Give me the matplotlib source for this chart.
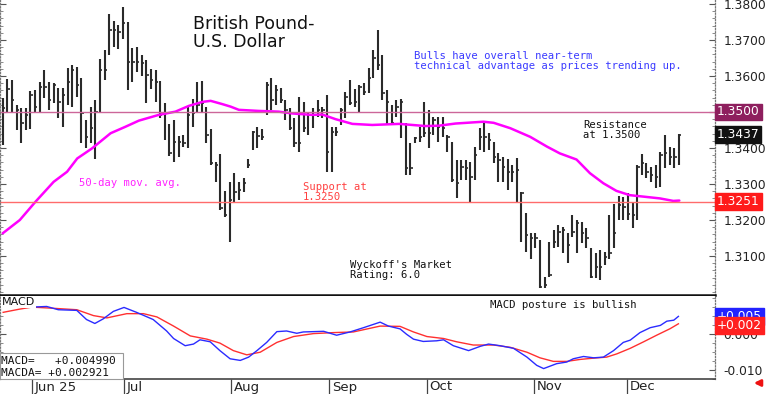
import matplotlib
matplotlib.use("Agg")
import matplotlib.pyplot as plt
import matplotlib.transforms as mtrans
from matplotlib.patches import FancyArrowPatch, Rectangle
import numpy as np

# ---------------- data ----------------
highs = [1.3538, 1.3591, 1.3589, 1.3519, 1.3510, 1.3510, 1.3559, 1.3561, 1.3584, 1.3617,
         1.3584, 1.3581, 1.3568, 1.3566, 1.3621, 1.3631, 1.3624, 1.3594, 1.3478, 1.3513,
         1.3533, 1.3646, 1.3672, 1.3772, 1.3754, 1.3742, 1.3791, 1.3751, 1.3677, 1.3681,
         1.3658, 1.3644, 1.3619, 1.3617, 1.3587, 1.3524, 1.3467, 1.3478, 1.3433, 1.3436,
         1.3513, 1.3535, 1.3584, 1.3587, 1.3515, 1.3452, 1.3362, 1.3383, 1.3281, 1.3306,
         1.3331, 1.3306, 1.3316, 1.3369, 1.3448, 1.3457, 1.3452, 1.3584, 1.3594, 1.3575,
         1.3566, 1.3533, 1.3510, 1.3482, 1.3543, 1.3529, 1.3496, 1.3510, 1.3533, 1.3515,
         1.3547, 1.3459, 1.3459, 1.3510, 1.3556, 1.3589, 1.3563, 1.3575, 1.3580, 1.3621,
         1.3672, 1.3728, 1.3658, 1.3561, 1.3519, 1.3533, 1.3535, 1.3469, 1.3413, 1.3431,
         1.3459, 1.3529, 1.3506, 1.3487, 1.3487, 1.3487, 1.3436, 1.3418, 1.3367, 1.3367,
         1.3367, 1.3362, 1.3404, 1.3455, 1.3473, 1.3441, 1.3418, 1.3385, 1.3376, 1.3369,
         1.3353, 1.3371, 1.3279, 1.3219, 1.3163, 1.3163, 1.3144, 1.3043, 1.3140, 1.3172,
         1.3186, 1.3181, 1.3163, 1.3214, 1.3200, 1.3195, 1.3177, 1.3121, 1.3107, 1.3117,
         1.3112, 1.3214, 1.3244, 1.3267, 1.3265, 1.3276, 1.3251, 1.3353, 1.3383, 1.3357,
         1.3348, 1.3353, 1.3390, 1.3436, 1.3404, 1.3399, 1.3439]

lows = [1.3408, 1.3498, 1.3501, 1.3450, 1.3415, 1.3450, 1.3452, 1.3496, 1.3501, 1.3538,
        1.3506, 1.3524, 1.3482, 1.3457, 1.3519, 1.3515, 1.3543, 1.3413, 1.3399, 1.3413,
        1.3369, 1.3501, 1.3589, 1.3658, 1.3681, 1.3674, 1.3702, 1.3561, 1.3584, 1.3612,
        1.3600, 1.3524, 1.3563, 1.3529, 1.3482, 1.3422, 1.3378, 1.3362, 1.3374, 1.3404,
        1.3399, 1.3459, 1.3501, 1.3501, 1.3415, 1.3353, 1.3306, 1.3228, 1.3209, 1.3140,
        1.3248, 1.3256, 1.3279, 1.3344, 1.3394, 1.3399, 1.3422, 1.3492, 1.3506, 1.3519,
        1.3524, 1.3478, 1.3450, 1.3404, 1.3390, 1.3445, 1.3436, 1.3455, 1.3487, 1.3482,
        1.3334, 1.3334, 1.3433, 1.3464, 1.3482, 1.3519, 1.3515, 1.3496, 1.3547, 1.3552,
        1.3594, 1.3617, 1.3533, 1.3464, 1.3464, 1.3487, 1.3427, 1.3325, 1.3325, 1.3413,
        1.3418, 1.3431, 1.3399, 1.3436, 1.3418, 1.3431, 1.3390, 1.3306, 1.3260, 1.3311,
        1.3311, 1.3246, 1.3311, 1.3394, 1.3390, 1.3394, 1.3357, 1.3306, 1.3306, 1.3283,
        1.3306, 1.3246, 1.3140, 1.3112, 1.3093, 1.3121, 1.3010, 1.3010, 1.3043, 1.3121,
        1.3126, 1.3107, 1.3080, 1.3154, 1.3107, 1.3135, 1.3121, 1.3038, 1.3038, 1.3033,
        1.3075, 1.3093, 1.3121, 1.3200, 1.3200, 1.3200, 1.3177, 1.3200, 1.3325, 1.3316,
        1.3306, 1.3288, 1.3293, 1.3344, 1.3353, 1.3344, 1.3353]

closes = [1.3510, 1.3563, 1.3533, 1.3506, 1.3470, 1.3492, 1.3547, 1.3515, 1.3570, 1.3570,
          1.3533, 1.3575, 1.3529, 1.3547, 1.3584, 1.3617, 1.3575, 1.3496, 1.3431, 1.3455,
          1.3501, 1.3617, 1.3617, 1.3728, 1.3728, 1.3723, 1.3746, 1.3640, 1.3640, 1.3640,
          1.3635, 1.3603, 1.3589, 1.3584, 1.3492, 1.3496, 1.3385, 1.3418, 1.3418, 1.3413,
          1.3492, 1.3496, 1.3519, 1.3524, 1.3436, 1.3357, 1.3353, 1.3232, 1.3214, 1.3256,
          1.3279, 1.3283, 1.3302, 1.3353, 1.3445, 1.3433, 1.3431, 1.3575, 1.3533, 1.3561,
          1.3533, 1.3506, 1.3455, 1.3413, 1.3413, 1.3455, 1.3492, 1.3492, 1.3506, 1.3506,
          1.3390, 1.3445, 1.3445, 1.3506, 1.3543, 1.3524, 1.3529, 1.3570, 1.3556, 1.3594,
          1.3649, 1.3631, 1.3552, 1.3529, 1.3469, 1.3515, 1.3529, 1.3344, 1.3344, 1.3427,
          1.3431, 1.3441, 1.3441, 1.3478, 1.3459, 1.3455, 1.3431, 1.3311, 1.3302, 1.3348,
          1.3344, 1.3320, 1.3381, 1.3431, 1.3431, 1.3422, 1.3376, 1.3367, 1.3348, 1.3334,
          1.3334, 1.3339, 1.3274, 1.3158, 1.3149, 1.3149, 1.3015, 1.3019, 1.3047, 1.3140,
          1.3168, 1.3172, 1.3130, 1.3168, 1.3191, 1.3163, 1.3149, 1.3043, 1.3070, 1.3070,
          1.3098, 1.3107, 1.3163, 1.3242, 1.3237, 1.3218, 1.3214, 1.3348, 1.3357, 1.3334,
          1.3325, 1.3320, 1.3381, 1.3385, 1.3376, 1.3376, 1.3437]

# 50-day moving average, read at bar positions
ma_x = [1, 4.7, 8.1, 12.0, 14.9, 17.1, 20.3, 24.3, 27.5, 30.4, 34.7, 38.3, 41.2, 44.1, 45.9,
        48.4, 50.2, 52.0, 56.3, 60.6, 63.5, 67.8, 70.0, 72.9, 76.5, 80.8, 86.6, 92.3, 95.2,
        98.8, 104.8, 107.0, 110.6, 114.9, 118.5, 121.3, 124.9, 127.8, 130.7, 133.5, 136.4,
        139.3, 142.9, 145.8, 147.1]
ma_y = [1.3163, 1.3200, 1.3251, 1.3306, 1.3334, 1.3371, 1.3399, 1.3441, 1.3459, 1.3476,
        1.3492, 1.3501, 1.3517, 1.3528, 1.3531, 1.3522, 1.3515, 1.3506, 1.3503, 1.3501,
        1.3496, 1.3492, 1.3493, 1.3480, 1.3467, 1.3464, 1.3467, 1.3461, 1.3462, 1.3468,
        1.3473, 1.3470, 1.3455, 1.3431, 1.3404, 1.3385, 1.3368, 1.3330, 1.3302, 1.3281,
        1.3269, 1.3265, 1.3260, 1.3253, 1.3254]

# MACD line (blue) and its average (red)
macd_x = [7.3, 10.5, 13.0, 17.0, 19.1, 20.9, 22.7, 24.9, 27.2, 29.9, 33.5, 36.4, 37.9, 40.4,
          42.2, 43.6, 45.8, 47.9, 50.1, 52.3, 54.1, 55.9, 58.0, 60.2, 62.3, 64.5, 65.9, 70.3,
          73.1, 76.0, 78.9, 82.5, 84.3, 86.8, 88.2, 89.7, 91.8, 94.7, 96.2, 98.3, 101.6, 104.1,
          105.9, 108.4, 111.3, 114.2, 116.3, 117.8, 120.6, 122.8, 124.2, 126.4, 128.6, 130.7,
          132.9, 135.0, 136.5, 138.6, 140.8, 143.0, 144.4, 145.9, 146.9]
macd_y = [0.00758, 0.00776, 0.00685, 0.00667, 0.00411, 0.00301, 0.00429, 0.00639, 0.00749,
          0.00612, 0.00411, 0.00091, -0.00119, -0.00320, -0.00274, -0.00155, -0.00210,
          -0.00457, -0.00685, -0.00731, -0.00639, -0.00457, -0.00228, 0.00073, 0.00091,
          0.00027, 0.00064, 0.00082, -0.00027, 0.00064, 0.00183, 0.00338, 0.00228, 0.00150,
          0.00000, -0.00137, -0.00201, -0.00183, -0.00155, -0.00320, -0.00457, -0.00338,
          -0.00274, -0.00320, -0.00393, -0.00639, -0.00868, -0.00959, -0.00822, -0.00776,
          -0.00685, -0.00621, -0.00658, -0.00639, -0.00457, -0.00228, -0.00164, 0.00046,
          0.00183, 0.00247, 0.00365, 0.00393, 0.00499]
sig_x = [1.1, 4.7, 7.3, 11.2, 17.0, 20.6, 23.5, 27.8, 31.4, 34.3, 37.9, 41.5, 45.1, 47.9,
         50.8, 53.7, 56.6, 60.2, 63.8, 68.1, 72.4, 76.7, 82.5, 86.8, 89.7, 92.6, 96.2, 99.0,
         102.6, 107.0, 110.6, 114.2, 117.0, 119.9, 122.8, 125.7, 128.6, 131.4, 133.6, 136.5,
         139.4, 142.2, 145.1, 146.9]
sig_y = [0.00612, 0.00703, 0.00758, 0.00731, 0.00685, 0.00521, 0.00457, 0.00575, 0.00575,
         0.00484, 0.00228, -0.00046, -0.00137, -0.00247, -0.00457, -0.00575, -0.00502,
         -0.00228, -0.00064, 0.00018, 0.00046, 0.00064, 0.00228, 0.00220, 0.00064, -0.00064,
         -0.00119, -0.00210, -0.00301, -0.00301, -0.00365, -0.00502, -0.00658, -0.00758,
         -0.00758, -0.00703, -0.00667, -0.00639, -0.00548, -0.00393, -0.00210, -0.00027,
         0.00155, 0.00292]

month_pos = [7.3, 27.2, 50.3, 71.5, 92.6, 115.8, 135.9]
month_labels = ["Jun 25", "Jul", "Aug", "Sep", "Oct", "Nov", "Dec"]

price_ticks = [1.31, 1.32, 1.33, 1.34, 1.35, 1.36, 1.37, 1.38]
resistance = 1.3500
support = 1.3250
last_close = 1.3437
ma_last = 1.3251
macd_last = 0.004990
macda_last = 0.002921
macd_box_label = "+0.005"
macda_box_label = "+0.002"

# ---------------- figure ----------------
W, H = 768, 394
fig = plt.figure(figsize=(W / 100, H / 100), dpi=100)
fig.patch.set_facecolor("white")


def fx(px):
    return px / W


def fy(py):
    return 1 - py / H


right_px = 715
ax1 = fig.add_axes([0, fy(295), fx(right_px), (295) / H])
ax2 = fig.add_axes([0, fy(379), fx(right_px), (379 - 296) / H])

n = len(closes)
xs = np.arange(1, n + 1)
xlim = (0.42, 154.8)
LBL = 8.8

# price bars
ax1.vlines(xs, lows, highs, color="#2a2a2a", lw=1.5)
ax1.hlines(closes, xs, xs + 0.5, color="#2a2a2a", lw=1.2)
ax1.plot(ma_x, ma_y, color="#ff00ff", lw=1.8, solid_capstyle="round", solid_joinstyle="round")
ax1.axhline(resistance, color="#cc6699", lw=1.0)
ax1.axhline(support, color="#ff6b6b", lw=1.0)

ax1.set_xlim(*xlim)
ax1.set_ylim(1.38 - 291 / 3600, 1.38 + 4 / 3600)
ax1.set_xticks([])
ax1.yaxis.tick_right()
ax1.set_yticks(price_ticks)
# the 1.3500 label sits under the resistance box
ax1.set_yticklabels(["" if abs(t - resistance) < 1e-9 else f"{t:.4f}" for t in price_ticks])
ax1.set_yticks(np.arange(1.30, 1.381, 0.002), minor=True)
ax1.tick_params(axis="y", which="major", direction="in", length=4, width=0.8,
                colors="#555555", labelcolor="#222222", labelsize=LBL, pad=6,
                left=True)
ax1.tick_params(axis="y", which="minor", direction="in", length=2, width=0.6,
                colors="#777777", left=True)
for s in ["left", "right"]:
    ax1.spines[s].set_linestyle((0, (1, 1.5)))
    ax1.spines[s].set_color("#777777")
    ax1.spines[s].set_linewidth(0.9)
ax1.spines["top"].set_visible(False)
ax1.spines["bottom"].set_color("#111111")
ax1.spines["bottom"].set_linewidth(1.8)

# macd
ax2.plot(sig_x, sig_y, color="#ff3030", lw=1.0)
ax2.plot(macd_x, macd_y, color="#2b2bff", lw=1.0)
ax2.set_xlim(*xlim)
ax2.set_ylim((335 - 379) / 3650, (335 - 296) / 3650)
ax2.yaxis.tick_right()
ax2.set_yticks([-0.01, 0.0])
ax2.set_yticklabels(["-0.010", "0.000"])
ax2.set_yticks(np.arange(-0.0125, 0.0101, 0.0025), minor=True)
ax2.tick_params(axis="y", which="major", direction="in", length=4, width=0.8,
                colors="#555555", labelcolor="#222222", labelsize=LBL, pad=6, left=True)
ax2.tick_params(axis="y", which="minor", direction="in", length=2, width=0.6,
                colors="#777777", left=True)
ax2.set_xticks(month_pos)
ax2.set_xticklabels([])
ax2.tick_params(axis="x", which="major", direction="out", length=11, width=0.9,
                colors="#444444")
for s in ["left", "right"]:
    ax2.spines[s].set_linestyle((0, (1, 1.5)))
    ax2.spines[s].set_color("#777777")
    ax2.spines[s].set_linewidth(0.9)
ax2.spines["top"].set_visible(False)
ax2.spines["bottom"].set_color("#444444")
ax2.spines["bottom"].set_linewidth(1.2)

tr2 = mtrans.blended_transform_factory(ax2.transData, fig.transFigure)
for p, lab in zip(month_pos, month_labels):
    ax2.text(p + 0.6, fy(387), lab, transform=tr2, ha="left", va="center",
             fontsize=9.5, color="#222222", clip_on=False)


# value boxes on the right axis
def axis_box(ax, val, text, color):
    tr = mtrans.blended_transform_factory(fig.transFigure, ax.transData)
    ax.text(fx(717), val, text, transform=tr, ha="left", va="center", fontsize=LBL,
            color="white", zorder=10, clip_on=False,
            bbox=dict(boxstyle="square,pad=0.15", facecolor=color, edgecolor=color))


axis_box(ax1, resistance, f"{resistance:.4f}", "#8e1f5e")
axis_box(ax1, last_close, f"{last_close:.4f}", "#111111")
axis_box(ax1, ma_last, f"{ma_last:.4f}", "#ff1a1a")
axis_box(ax2, macd_last, macd_box_label, "#2222ff")
axis_box(ax2, macda_last - 0.0004, macda_box_label, "#ff2020")

# annotations
mono = "DejaVu Sans Mono"
fig.text(fx(193), fy(33), "British Pound-\nU.S. Dollar", fontsize=12.5, color="#111111",
         ha="left", va="center", linespacing=1.05)
fig.text(fx(414), fy(61), "Bulls have overall near-term\ntechnical advantage as prices trending up.",
         family=mono, fontsize=7.6, color="#3a3aff", ha="left", va="center", linespacing=1.0)
fig.text(fx(583), fy(130), "Resistance\nat 1.3500", family=mono, fontsize=7.6,
         color="#111111", ha="left", va="center", linespacing=1.0)
fig.text(fx(79), fy(183), "50-day mov. avg.", family=mono, fontsize=7.6, color="#ff22ff",
         ha="left", va="center")
fig.text(fx(303), fy(191.5), "Support at\n1.3250", family=mono, fontsize=7.6,
         color="#ff4040", ha="left", va="center", linespacing=1.0)
fig.text(fx(350), fy(269.5), "Wyckoff's Market\nRating: 6.0", family=mono, fontsize=7.6,
         color="#111111", ha="left", va="center", linespacing=1.0)
fig.text(fx(490), fy(305), "MACD posture is bullish", family=mono, fontsize=7.6,
         color="#111111", ha="left", va="center")
fig.text(fx(2), fy(302), "MACD", fontsize=8, color="#111111", ha="left", va="center",
         zorder=10, bbox=dict(boxstyle="square,pad=0.1", facecolor="white", edgecolor="none"))

fig.add_artist(Rectangle((0, fy(379)), fx(123), (379 - 353) / H, transform=fig.transFigure,
                         facecolor="white", edgecolor="#999999", lw=0.8, zorder=5))
fig.text(fx(1), fy(360.5), f"MACD=   +{macd_last:.6f}", family=mono, fontsize=8,
         color="#111111", ha="left", va="center", zorder=6)
fig.text(fx(1), fy(372.5), f"MACDA= +{macda_last:.6f}", family=mono, fontsize=8,
         color="#111111", ha="left", va="center", zorder=6)

fig.add_artist(FancyArrowPatch((fx(764), fy(383)), (fx(751), fy(383)),
                               transform=fig.transFigure, arrowstyle="-|>",
                               mutation_scale=9, color="#ee1111", lw=2))

fig.savefig("out.png", dpi=100, facecolor="white")
